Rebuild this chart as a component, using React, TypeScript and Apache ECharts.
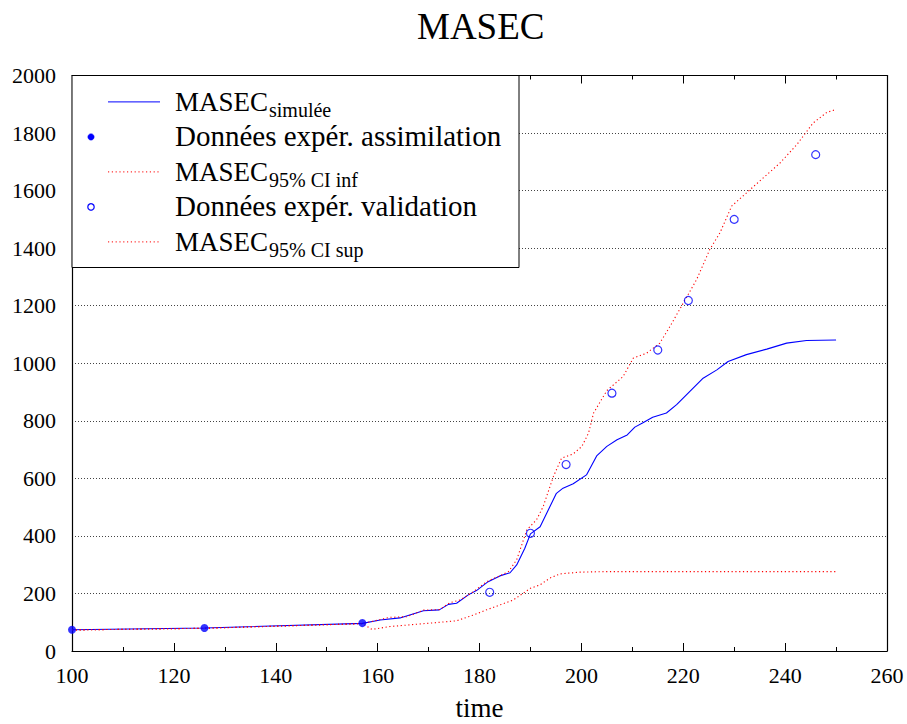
import React, { useEffect, useRef } from "react";
import * as echarts from "echarts";

// ---- Data ----
const simT = [100, 126, 157, 160.5, 164.4, 169, 172.1, 173.9, 175.5, 177.8, 179.4, 181.7, 184, 186, 187.3, 188.9, 190, 191.9, 193.5, 195.1, 196.4, 198.4, 201, 203, 205, 207, 209, 210.5, 212, 214, 216.7, 218.7, 221.3, 223.9, 226.6, 228.8, 232.4, 236.4, 240.3, 244.2, 250];
const simV = [74, 80, 96, 108, 115, 140, 143, 162, 166, 195, 210, 241, 261, 272, 299, 357, 407, 432, 490, 548, 566, 581, 612, 678, 711, 734, 751, 778, 792, 812, 827, 856, 902, 948, 977, 1006, 1030, 1049, 1070, 1079, 1081];

const supT = [100, 126, 157, 162.4, 165.7, 169, 172.2, 174.2, 176.2, 178.8, 181.4, 183.7, 185.7, 187.3, 189.3, 191.2, 192.5, 194.5, 196.1, 198.4, 200.1, 201.4, 202.4, 205, 208.2, 210.2, 212.8, 215.4, 217.4, 220, 222.6, 225.2, 227.2, 229.5, 233.1, 235.7, 239, 242.3, 245.5, 248.2, 250];
const supV = [73, 79, 95, 117, 119, 142, 144, 168, 177, 206, 241, 259, 276, 317, 421, 456, 502, 606, 670, 685, 711, 757, 827, 905, 954, 1018, 1035, 1070, 1128, 1209, 1290, 1395, 1453, 1546, 1603, 1644, 1696, 1760, 1835, 1872, 1882];

const infT = [100, 126, 157, 158.9, 162.4, 165.7, 171, 175.5, 178.8, 181.4, 184, 186.6, 188.6, 190, 191.9, 193.8, 195.8, 199.7, 205, 250];
const infV = [73, 79, 95, 75, 85, 90, 98, 105, 125, 143, 160, 177, 201, 218, 230, 253, 268, 274, 276, 276];

const assimT = [100, 126, 157];
const assimV = [74, 80, 97];

const validT = [182, 190, 197, 206, 215, 221, 230, 246];
const validV = [204, 409, 648, 896, 1046, 1218, 1500, 1725];

const xTicks = { min: 100, max: 260, interval: 20 };
const yTicks = { min: 0, max: 2000, interval: 200 };

const FONT = "Liberation Serif";
const BLUE = "#0000ff";
const RED = "#ff0000";

const pairs = (t: number[], v: number[]) => t.map((x, i) => [x, v[i]]);

// Legend entries
const legendRows = [
  { main: "MASEC", sub: "simulée", kind: "line" },
  { main: "Données expér. assimilation", sub: "", kind: "dot" },
  { main: "MASEC", sub: "95% CI inf", kind: "dotted" },
  { main: "Données expér. validation", sub: "", kind: "circle" },
  { main: "MASEC", sub: "95% CI sup", kind: "dotted" },
];

export default function App() {
  const ref = useRef<HTMLDivElement>(null);

  useEffect(() => {
    if (!ref.current) return;
    const chart = echarts.init(ref.current, undefined, { renderer: "svg" });

    const legendEls: any[] = [
      {
        type: "rect",
        shape: { x: 72, y: 75.5, width: 447, height: 192 },
        style: { fill: "#fff", stroke: "#000", lineWidth: 1 },
        z: 100,
      },
    ];
    legendRows.forEach((r, i) => {
      const baseline = 111 + 35 * i;
      const cy = baseline - 9.1;
      if (r.kind === "line" || r.kind === "dotted") {
        legendEls.push({
          type: "line",
          shape: { x1: 108, y1: cy, x2: 160, y2: cy },
          style: r.kind === "line"
            ? { stroke: BLUE, lineWidth: 1 }
            : { stroke: RED, lineWidth: 1, lineDash: [1.2, 2.6] },
          z: 101,
        });
      } else {
        legendEls.push({
          type: "circle",
          shape: { cx: 91, cy, r: 3.2 },
          style: r.kind === "dot"
            ? { fill: BLUE, stroke: BLUE, lineWidth: 0.5 }
            : { fill: "rgba(0,0,0,0)", stroke: BLUE, lineWidth: 1.2 },
          z: 101,
        });
      }
      const fs = r.sub ? 27 : 29;
      legendEls.push({
        type: "text",
        x: 175,
        y: baseline - 0.3375 * fs,
        style: {
          text: r.main,
          fontFamily: FONT,
          fontSize: fs,
          fill: "#000",
          align: "left",
          verticalAlign: "middle",
        },
        z: 101,
      });
      if (r.sub) {
        legendEls.push({
          type: "text",
          x: 269,
          y: baseline - 0.75,
          style: {
            text: r.sub,
            fontFamily: FONT,
            fontSize: 20,
            fill: "#000",
            align: "left",
            verticalAlign: "middle",
          },
          z: 101,
        });
      }
    });

    const axisLabel = {
      color: "#000",
      fontSize: 22,
      fontFamily: FONT,
      formatter: (v: number) => String(v),
    };

    chart.setOption({
      animation: false,
      backgroundColor: "#fff",
      textStyle: { fontFamily: FONT },
      title: {
        text: "MASEC",
        left: 417,
        top: 8,
        padding: 0,
        textStyle: { fontFamily: FONT, fontSize: 37, fontWeight: "normal", color: "#000" },
      },
      grid: {
        left: 72,
        right: 20,
        top: 75.5,
        bottom: 73,
        containLabel: false,
        outerBoundsMode: "none",
      },
      xAxis: [
        {
          type: "value",
          min: xTicks.min,
          max: xTicks.max,
          interval: xTicks.interval,
          name: "time",
          nameLocation: "middle",
          nameGap: 43,
          nameTextStyle: { color: "#000", fontSize: 27, fontFamily: FONT },
          axisLine: { show: true, onZero: false, lineStyle: { color: "#000", width: 1.2 } },
          axisTick: { show: true, inside: true, length: 8, lineStyle: { color: "#000", width: 1 } },
          minorTick: { show: true, splitNumber: 2, length: 4, lineStyle: { color: "#000", width: 1 } },
          axisLabel: { ...axisLabel, margin: 13 },
          splitLine: { show: false },
        },
        {
          type: "value",
          position: "top",
          min: xTicks.min,
          max: xTicks.max,
          interval: xTicks.interval,
          axisLine: { show: true, onZero: false, lineStyle: { color: "#000", width: 1.2 } },
          axisTick: { show: true, inside: true, length: 8, lineStyle: { color: "#000", width: 1 } },
          minorTick: { show: true, splitNumber: 2, length: 4, lineStyle: { color: "#000", width: 1 } },
          axisLabel: { show: false },
          splitLine: { show: false },
        },
      ],
      yAxis: [
        {
          type: "value",
          min: yTicks.min,
          max: yTicks.max,
          interval: yTicks.interval,
          axisLine: { show: true, onZero: false, lineStyle: { color: "#000", width: 1.2 } },
          axisTick: { show: false },
          axisLabel: { ...axisLabel, margin: 16 },
          splitLine: { show: true, lineStyle: { color: "#444", width: 1, type: [1, 2] } },
        },
        {
          type: "value",
          position: "right",
          min: yTicks.min,
          max: yTicks.max,
          interval: yTicks.interval,
          axisLine: { show: true, onZero: false, lineStyle: { color: "#000", width: 1.2 } },
          axisTick: { show: false },
          axisLabel: { show: false },
          splitLine: { show: false },
        },
      ],
      series: [
        {
          name: "MASEC simulée",
          type: "line",
          data: pairs(simT, simV),
          showSymbol: false,
          lineStyle: { color: BLUE, width: 1.1 },
          z: 3,
        },
        {
          name: "MASEC 95% CI inf",
          type: "line",
          data: pairs(infT, infV),
          showSymbol: false,
          lineStyle: { color: RED, width: 1.1, type: [1.2, 2.6] },
          z: 4,
        },
        {
          name: "MASEC 95% CI sup",
          type: "line",
          data: pairs(supT, supV),
          showSymbol: false,
          lineStyle: { color: RED, width: 1.1, type: [1.2, 2.6] },
          z: 4,
        },
        {
          name: "Données expér. assimilation",
          type: "scatter",
          data: pairs(assimT, assimV),
          symbol: "circle",
          symbolSize: 8,
          clip: false,
          itemStyle: { color: BLUE },
          z: 5,
        },
        {
          name: "Données expér. validation",
          type: "scatter",
          data: pairs(validT, validV),
          symbol: "circle",
          symbolSize: 8,
          clip: false,
          itemStyle: { color: "rgba(0,0,0,0)", borderColor: BLUE, borderWidth: 1.2 },
          z: 5,
        },
      ],
      graphic: { elements: legendEls },
    });

    return () => chart.dispose();
  }, []);

  return (
    <div
      ref={ref}
      style={{ position: "absolute", left: 0, top: 0, width: 907, height: 724 }}
    />
  );
}
